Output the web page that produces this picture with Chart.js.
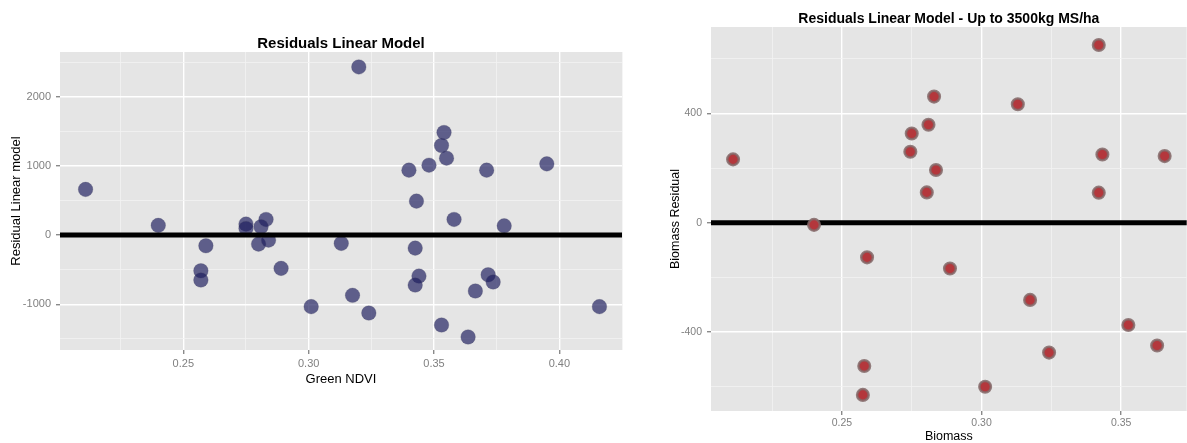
<!DOCTYPE html>
<html>
<head>
<meta charset="utf-8">
<script src="https://cdn.jsdelivr.net/npm/chart.js@4.4.1/dist/chart.umd.min.js"></script>
<style>
  html, body { margin: 0; padding: 0; background: #fff; overflow: hidden; }
  #leftBox { position: absolute; left: 0; top: 0; width: 640px; height: 443px; }
  #rightBox { position: absolute; left: 652px; top: 0; width: 543px; height: 452px; }
</style>
</head>
<body>
<div id="leftBox"><canvas id="leftChart"></canvas></div>
<div id="rightBox"><canvas id="rightChart"></canvas></div>
<script>
// left panel: residuals of the full linear model
const greenNdvi = [0.211, 0.240, 0.259, 0.257, 0.257, 0.275, 0.275, 0.283, 0.281, 0.280, 0.284, 0.289, 0.301,
  0.320, 0.313, 0.3175, 0.324, 0.354, 0.353, 0.355, 0.340, 0.348, 0.371, 0.395, 0.343, 0.358, 0.378,
  0.3425, 0.344, 0.3425, 0.3716, 0.3736, 0.3665, 0.353, 0.3636, 0.416];
const residualLinear = [660, 140, -154, -515, -649, 159, 96, 226, 120, -130, -72, -481, -1034,
  2429, -120, -870, -1126, 1482, 1294, 1111, 938, 1010, 938, 1029, 491, 226, 134,
  -188, -592, -722, -573, -678, -808, -1299, -1472, -1034];

// right panel: residuals up to 3500kg MS/ha
const biomass = [0.211, 0.240, 0.259, 0.258, 0.2575, 0.275, 0.2745, 0.342, 0.283, 0.313, 0.281,
  0.2837, 0.2804, 0.3433, 0.3656, 0.342, 0.2887, 0.3174, 0.3526, 0.3629, 0.3242, 0.3013];
const biomassResidual = [232, -8, -127, -525, -631, 327, 260, 651, 462, 434, 359,
  193, 111, 250, 244, 110, -168, -283, -375, -450, -476, -601];

// ticks (major get labels, minor only grid lines)
const leftXMajor = [0.25, 0.30, 0.35, 0.40];
const leftXMinor = [0.225, 0.275, 0.325, 0.375, 0.425];
const leftYMajor = [-1000, 0, 1000, 2000];
const leftYMinor = [-1500, -500, 500, 1500, 2500];
const rightXMajor = [0.25, 0.30, 0.35];
const rightXMinor = [0.225, 0.275, 0.325, 0.375];
const rightYMajor = [-400, 0, 400];
const rightYMinor = [-600, -200, 200, 600];

const FONT = "'Liberation Sans', Arial, sans-serif";
const isMajor = (list, v) => list.some(m => Math.abs(m - v) < 1e-9);

const panelBg = {
  id: 'panelBg',
  beforeDraw(chart) {
    const a = chart.chartArea, ctx = chart.ctx;
    ctx.save();
    ctx.fillStyle = '#e5e5e5';
    ctx.fillRect(a.left, a.top, a.right - a.left, a.bottom - a.top);
    ctx.restore();
  }
};

function zeroLine(onTop) {
  const draw = chart => {
    const a = chart.chartArea, ctx = chart.ctx;
    const y = chart.scales.y.getPixelForValue(0);
    ctx.save();
    ctx.strokeStyle = '#000';
    ctx.lineWidth = 5;
    ctx.beginPath();
    ctx.moveTo(a.left, y);
    ctx.lineTo(a.right, y);
    ctx.stroke();
    ctx.restore();
  };
  return onTop ? { id: 'zeroLine', afterDatasetsDraw: draw } : { id: 'zeroLine', beforeDatasetsDraw: draw };
}

function panelTitle(text, size) {
  return {
    id: 'panelTitle',
    afterDraw(chart) {
      const a = chart.chartArea, ctx = chart.ctx;
      ctx.save();
      ctx.font = 'bold ' + size + 'px ' + FONT;
      ctx.fillStyle = '#000';
      ctx.textAlign = 'center';
      ctx.textBaseline = 'alphabetic';
      ctx.fillText(text, (a.left + a.right) / 2, a.top - 4);
      ctx.restore();
    }
  };
}

function axis(opts) {
  const all = opts.major.concat(opts.minor).sort((p, q) => p - q)
    .filter(v => v >= opts.min && v <= opts.max);
  return {
    type: 'linear',
    position: opts.position,
    min: opts.min,
    max: opts.max,
    afterBuildTicks: s => { s.ticks = all.map(v => ({ value: v })); },
    afterFit: s => {
      if (opts.width) s.width = opts.width;
      if (opts.height) s.height = opts.height;
    },
    border: { display: false },
    grid: {
      color: c => isMajor(opts.major, c.tick.value) ? '#ffffff' : '#f3f3f3',
      lineWidth: c => isMajor(opts.major, c.tick.value) ? 1.4 : 0.8,
      tickColor: c => isMajor(opts.major, c.tick.value) ? '#8a8a8a' : 'rgba(0,0,0,0)',
      tickLength: 4,
      drawTicks: true
    },
    ticks: {
      autoSkip: false,
      maxRotation: 0,
      padding: opts.tickPad,
      color: '#808080',
      font: { family: FONT, size: opts.tickSize },
      callback: v => isMajor(opts.major, v) ? opts.fmt(v) : ''
    },
    title: {
      display: true,
      text: opts.title,
      color: '#000',
      font: { family: FONT, size: opts.titleSize },
      padding: opts.titlePad
    }
  };
}

new Chart(document.getElementById('leftChart'), {
  type: 'scatter',
  data: {
    datasets: [{
      data: greenNdvi.map((x, i) => ({ x: x, y: residualLinear[i] })),
      pointRadius: 7.3,
      pointHoverRadius: 7.3,
      backgroundColor: 'rgba(30,30,95,0.68)',
      borderColor: 'rgba(70,70,100,0.25)',
      borderWidth: 1
    }]
  },
  options: {
    responsive: true,
    maintainAspectRatio: false,
    animation: false,
    layout: { padding: { top: 52, right: 18, left: 0, bottom: 0 } },
    plugins: { legend: { display: false }, tooltip: { enabled: false } },
    scales: {
      x: axis({ position: 'bottom', min: 0.2008, max: 0.425, major: leftXMajor, minor: leftXMinor,
        height: 93, tickPad: 3, tickSize: 11, fmt: v => v.toFixed(2),
        title: 'Green NDVI', titleSize: 13, titlePad: { top: 0, bottom: 56 } }),
      y: axis({ position: 'left', min: -1660, max: 2645, major: leftYMajor, minor: leftYMinor,
        width: 60, tickPad: 5, tickSize: 11, fmt: v => String(v),
        title: 'Residual Linear model', titleSize: 13, titlePad: { top: 9, bottom: 0 } })
    }
  },
  plugins: [panelBg, zeroLine(true), panelTitle('Residuals Linear Model', 15)]
});

new Chart(document.getElementById('rightChart'), {
  type: 'scatter',
  data: {
    datasets: [{
      data: biomass.map((x, i) => ({ x: x, y: biomassResidual[i] })),
      pointRadius: 5.8,
      pointHoverRadius: 5.8,
      backgroundColor: 'rgb(180,55,60)',
      borderColor: 'rgba(130,105,105,0.85)',
      borderWidth: 2.5
    }]
  },
  options: {
    responsive: true,
    maintainAspectRatio: false,
    animation: false,
    layout: { padding: { top: 27, right: 0, left: 0, bottom: 0 } },
    plugins: { legend: { display: false }, tooltip: { enabled: false } },
    scales: {
      x: axis({ position: 'bottom', min: 0.2031, max: 0.3735, major: rightXMajor, minor: rightXMinor,
        height: 41, tickPad: 2, tickSize: 10.5, fmt: v => v.toFixed(2),
        title: 'Biomass', titleSize: 12.5, titlePad: { top: 0, bottom: 8 } }),
      y: axis({ position: 'left', min: -690, max: 717, major: rightYMajor, minor: rightYMinor,
        width: 59, tickPad: 5, tickSize: 10.5, fmt: v => String(v),
        title: 'Biomass Residual', titleSize: 12.5, titlePad: { top: 16, bottom: 0 } })
    }
  },
  plugins: [panelBg, zeroLine(false), panelTitle('Residuals Linear Model - Up to 3500kg MS/ha', 14)]
});
</script>
</body>
</html>
